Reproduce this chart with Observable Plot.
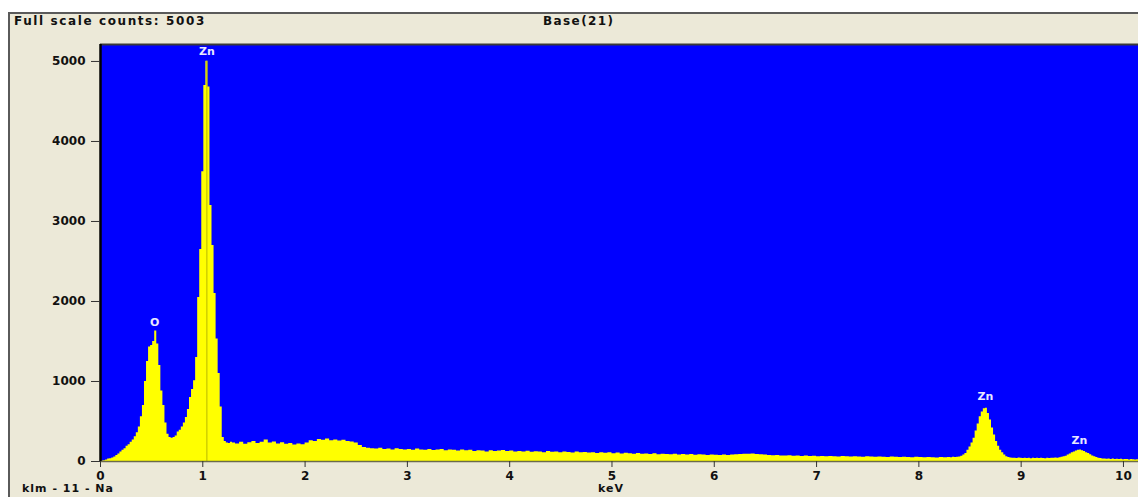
<!DOCTYPE html>
<html>
<head>
<meta charset="utf-8">
<script src="https://cdn.jsdelivr.net/npm/d3@7"></script>
<script src="https://cdn.jsdelivr.net/npm/@observablehq/plot@0.6"></script>
<style>
  html, body { margin: 0; padding: 0; background: #ffffff; }
  #wrap { position: relative; width: 1138px; height: 497px; overflow: hidden; background: #ffffff; }
  #panel { position: absolute; left: 8px; top: 12px; width: 1130px; height: 485px; background: #ECE9D8;
           border-top: 2px solid #5a5a5a; border-left: 2px solid #5a5a5a; box-sizing: border-box; }
  .t { position: absolute; font-family: "DejaVu Sans", sans-serif; font-weight: bold; font-size: 12px; color: #111; white-space: nowrap; }
  #chart { position: absolute; left: 0; top: 0; }
</style>
</head>
<body>
<div id="wrap">
  <div id="panel"></div>
  <div class="t" id="fsc" style="left:14px; top:14px; letter-spacing:1.6px;">Full scale counts: 5003</div>
  <div class="t" id="base" style="left:543px; top:14px; letter-spacing:1.4px;">Base(21)</div>
  <div class="t" id="klm" style="left:22px; top:482px; font-size:11px; letter-spacing:1px;">klm - 11 - Na</div>
  <div class="t" id="kev" style="left:598px; top:482px; font-size:11px; letter-spacing:1px;">keV</div>
  <div id="chart"></div>
</div>
<script>
// ---- Data: EDS spectrum counts per channel ----
// Segment A: 0.00 .. 1.28 keV, channel width 0.02 keV
const segAStart = 0.00, segAStep = 0.02;
const segACounts = [
  0, 5, 10, 20, 30, 35, 45, 55, 75, 95,
  120, 140, 160, 190, 210, 240, 270, 310, 360, 430,
  560, 700, 1000, 1250, 1430, 1450, 1500, 1630, 1470, 1200,
  880, 700, 480, 340, 300, 290, 300, 320, 370, 390,
  430, 480, 550, 650, 800, 900, 1010, 1300, 2050, 2650,
  3620, 4700, 5003, 4680, 3200, 2700, 2100, 1530, 1100, 680,
  300, 250, 230, 225, 240
];
// Segment B: 1.30 .. 8.30 keV, channel width 0.04 keV
const segBStart = 1.30, segBStep = 0.04;
const segBCounts = [
  230, 220, 240, 215, 235, 250, 225, 240, 270, 230, 245, 220, 235, 215, 225, 205, 220, 210, 230,
  260, 250, 275, 265, 280, 260, 270, 255, 265, 250, 245, 230, 200, 175, 165, 160, 155, 165, 150,
  155, 145, 160, 150, 145, 150, 140, 155, 145, 140, 150, 138, 145, 150, 135, 145, 140, 130, 145, 135,
  140, 125, 135, 130, 120, 135, 125, 130, 138, 125, 130, 120, 125, 118, 128, 115, 122, 118, 110, 125,
  115, 120, 110, 118, 112, 105, 120, 108, 112, 105, 110, 100, 108, 102, 110, 98, 105, 95, 102, 96,
  92, 100, 90, 95, 88, 96, 85, 92, 88, 84, 90, 82, 88, 80, 86, 78, 84, 80, 76, 82,
  78, 74, 80, 76, 82, 85, 88, 92, 90, 94, 88, 85, 80, 76, 72, 75, 70, 68, 72, 66,
  70, 64, 68, 62, 66, 60, 64, 58, 62, 60, 56, 62, 58, 55, 60, 56, 54, 58, 55, 52,
  56, 54, 50, 55, 52, 50, 54, 50, 48, 52, 50, 46, 50, 48, 45, 50, 48, 50
];
// Segment C: 8.32 .. 10.16 keV, channel width 0.02 keV
const segCStart = 8.32, segCStep = 0.02;
const segCCounts = [
  48, 52, 50, 54, 55, 65, 80, 100, 140, 180, 230, 290, 380, 470, 560, 620, 660, 665, 600, 520,
  420, 330, 250, 190, 140, 110, 80, 60, 50, 45,
  40, 42, 38, 44, 40, 36, 42, 38, 40, 35, 40, 38, 42, 36, 40, 38, 35, 40, 38, 42,
  40, 45, 42, 48, 52, 58, 65, 80, 95, 110, 120, 130, 140, 145, 135, 125, 110, 100, 85, 70,
  60, 50, 42, 36, 32, 30, 28, 32, 26, 30, 25, 28, 24, 28, 22, 26, 24, 20, 24, 22, 20, 22, 20
];

// Peak labels
const peakNames = ["Zn", "O", "Zn", "Zn"];
const peakEnergy = [1.04, 0.53, 8.65, 9.57];
const peakLabelCounts = [5130, 1740, 810, 260];
// Zn L line marker
const markerEnergy = [1.04];
const markerTop = [5003];

// Axis ticks
const xTicks = [0, 1, 2, 3, 4, 5, 6, 7, 8, 9, 10];
const yTicks = [0, 1000, 2000, 3000, 4000, 5000];

// ---- Build table ----
function seg(start, step, counts) {
  return counts.map((c, i) => ({ e: +(start + i * step).toFixed(3), c }));
}
const spectrum = [
  ...seg(segAStart, segAStep, segACounts),
  ...seg(segBStart, segBStep, segBCounts),
  ...seg(segCStart, segCStep, segCCounts)
];
const labels = peakNames.map((n, i) => ({ n, e: peakEnergy[i], c: peakLabelCounts[i] }));
const markers = markerEnergy.map((e, i) => ({ e, top: markerTop[i] }));

const font = "DejaVu Sans, sans-serif";
const chart = Plot.plot({
  width: 1138,
  height: 497,
  marginLeft: 100,
  marginRight: 0,
  marginTop: 44,
  marginBottom: 36,
  style: { background: "transparent", fontFamily: font, fontSize: "12px", color: "#111" },
  x: { domain: [0, 10.147], label: null },
  y: { domain: [0, 5212], label: null },
  marks: [
    Plot.frame({ fill: "#0000FF", stroke: "none" }),
    Plot.areaY(spectrum, { x: "e", y: "c", curve: "step", fill: "#FFFF00" }),
    Plot.ruleX(markers, { x: "e", y1: 0, y2: "top", stroke: "#B8B800", strokeWidth: 1 }),
    Plot.ruleY([5212], { stroke: "#3a3a3a", strokeWidth: 2 }),
    Plot.ruleY([0], { stroke: "#6b6b4a", strokeWidth: 1.5 }),
    Plot.ruleX([0], { stroke: "#000", strokeWidth: 2.5 }),
    Plot.axisY({ ticks: yTicks, tickFormat: d => String(d), tickSize: 9, tickPadding: 6,
                 fontWeight: "bold", fontSize: 12, stroke: "#333" }),
    Plot.axisX({ ticks: xTicks, tickFormat: d => String(d), tickSize: 6, tickPadding: 4,
                 fontWeight: "bold", fontSize: 12, stroke: "#333" }),
    Plot.text(labels, { x: "e", y: "c", text: "n", fill: "#E8E8FF", fontWeight: "bold",
                        fontSize: 11, fontFamily: font })
  ]
});
document.getElementById("chart").appendChild(chart);
</script>
</body>
</html>
